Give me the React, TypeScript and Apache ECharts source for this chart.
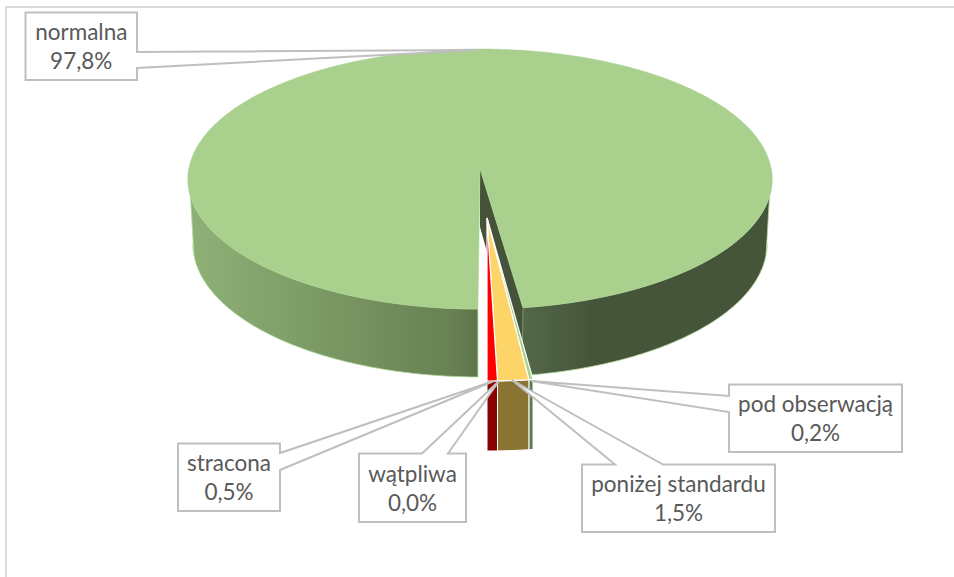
import React, { useEffect, useRef } from "react";
import * as echarts from "echarts";

const categories = ["normalna", "pod obserwacją", "poniżej standardu", "wątpliwa", "stracona"];
const values = [97.8, 0.2, 1.5, 0.0, 0.5];
const topColors = ["#a9d08d", "#a9d18e", "#fdd468", "#7f7f7f", "#ff0000"];
const sideColors = ["#44533a", "#5d7a52", "#8a7434", "#5f5f5f", "#8b0000"];

type P = [number, number];
const RAD = Math.PI / 180;
const MAIN = { ax: 480, ay: 169, cx: 480, cy: 179, rx: 292, ry: 130, dirX: 312, dirY: 134, skew: 2, apexDepth: 58 };
const BASE = { cx: 480, cy: 244, rx: 287, ry: 133 };
const SMALL = { ax: 487, ay: 218, rx: 334, ry: 163, depth: 70 };

// Ray from the projected pie centre to the projected (perspective) rim
function mainRim(deg: number): P {
  const t = deg * RAD;
  const dx = -MAIN.dirX * Math.sin(t) - MAIN.skew * Math.cos(t);
  const dy = MAIN.dirY * Math.cos(t);
  const ox = (MAIN.ax - MAIN.cx) / MAIN.rx;
  const oy = (MAIN.ay - MAIN.cy) / MAIN.ry;
  const ux = dx / MAIN.rx;
  const uy = dy / MAIN.ry;
  const a = ux * ux + uy * uy;
  const b = 2 * (ox * ux + oy * uy);
  const c = ox * ox + oy * oy - 1;
  const s = (-b + Math.sqrt(b * b - 4 * a * c)) / (2 * a);
  return [MAIN.ax + dx * s, MAIN.ay + dy * s];
}
// Lower rim, same x side: the point of the base ellipse below a given rim point
function baseAt(p: P): P {
  const u = Math.max(-1, Math.min(1, ((p[0] - BASE.cx) / MAIN.rx)));
  return [BASE.cx + BASE.rx * u, BASE.cy + BASE.ry * Math.sqrt(1 - u * u)];
}
function smallRim(deg: number): P {
  const t = deg * RAD;
  return [SMALL.ax - SMALL.rx * Math.sin(t), SMALL.ay + SMALL.ry * Math.cos(t)];
}
function sweep(f: (d: number) => P, from: number, to: number): P[] {
  const n = Math.max(2, Math.ceil(Math.abs(to - from) * 2));
  const out: P[] = [];
  for (let i = 0; i <= n; i++) out.push(f(from + ((to - from) * i) / n));
  return out;
}
function wall(top: P[], depth: number): P[] {
  return [...top, ...top.slice().reverse().map((p) => [p[0], p[1] + depth] as P)];
}
function outerWall(top: P[]): P[] {
  return [...top, ...top.slice().reverse().map(baseAt)];
}
const poly = (points: P[], style: any) => ({ type: "polygon", shape: { points }, style });

function renderSlice(params: any, api: any) {
  const i = params.dataIndex;
  const v = api.value(1) as number;
  const total = values.reduce((a, b) => a + b, 0);
  const before = values.slice(0, i).reduce((a, b) => a + b, 0);
  const a0 = (before / total) * 360;
  const a1 = ((before + v) / total) * 360;
  if (v <= 0) return { type: "group", children: [] };
  if (i === 0) {
    const rimAll = sweep(mainRim, a0, a1);
    const left = sweep(mainRim, a0, 90);
    const right = sweep(mainRim, 270, a1);
    const edge = mainRim(a1);
    return {
      type: "group",
      children: [
        poly(outerWall(left), {
          fill: new echarts.graphic.LinearGradient(0, 0, 1, 0, [
            { offset: 0, color: "#8fb177" },
            { offset: 0.9, color: "#688253" },
            { offset: 1, color: "#5f7549" },
          ]),
          stroke: "#b4d89c",
          lineWidth: 0.8,
        }),
        poly(outerWall(right), {
          fill: new echarts.graphic.LinearGradient(0, 0, 1, 0, [
            { offset: 0, color: "#546849" },
            { offset: 0.28, color: "#45553a" },
            { offset: 1, color: "#45553a" },
          ]),
          stroke: "#b4d89c",
          lineWidth: 0.8,
        }),
        poly(
          [
            [MAIN.ax, MAIN.ay],
            edge,
            baseAt(edge),
            [MAIN.ax, MAIN.ay + MAIN.apexDepth],
          ],
          { fill: sideColors[0] }
        ),
        poly([[MAIN.ax, MAIN.ay], ...rimAll], { fill: topColors[0], stroke: topColors[0], lineWidth: 0.5 }),
      ],
    };
  }
  const rim = sweep(smallRim, a0, a1);
  return {
    type: "group",
    children: [
      poly(wall(rim, SMALL.depth), { fill: sideColors[i], stroke: "#ffffff", lineWidth: 1 }),
      poly([[SMALL.ax, SMALL.ay], ...rim], { fill: topColors[i], stroke: "#ffffff", lineWidth: 1.2 }),
    ],
  };
}

const pct = (v: number) => v.toFixed(1).replace(".", ",") + "%";

// Callout layout: box [x, y, w, h] and its outline with the pointer tip, index aligned with categories
const callouts: { box: number[]; outline: P[] }[] = [
  {
    box: [25.5, 12.5, 111.5, 67.5],
    outline: [[25.5, 12.5], [137, 12.5], [137, 52], [478, 50], [137, 68], [137, 80], [25.5, 80]],
  },
  {
    box: [729, 384.5, 173, 67.5],
    outline: [[729, 384.5], [902, 384.5], [902, 452], [729, 452], [729, 412], [531, 381], [729, 396]],
  },
  {
    box: [582, 464.5, 193, 67.5],
    outline: [[582, 464.5], [615, 464.5], [512, 380], [663, 464.5], [775, 464.5], [775, 532], [582, 532]],
  },
  {
    box: [359, 453.5, 107, 68.5],
    outline: [[359, 453.5], [422, 453.5], [499, 381], [448, 453.5], [466, 453.5], [466, 522], [359, 522]],
  },
  {
    box: [178, 443.5, 102, 67.5],
    outline: [[178, 443.5], [280, 443.5], [280, 453], [494, 381], [280, 470], [280, 511], [178, 511]],
  },
];

const LABEL_FONT = { fontFamily: "Lato", fontSize: 22.5, fill: "#595959", align: "center", verticalAlign: "middle" };

function labelElements() {
  const out: any[] = [];
  categories.forEach((name, i) => {
    const { box, outline } = callouts[i];
    const cx = box[0] + box[2] / 2;
    const cy = box[1] + box[3] / 2;
    out.push({
      type: "polygon",
      z: 10,
      shape: { points: outline },
      style: { fill: "#ffffff", stroke: "#bfbfbf", lineWidth: 2 },
    });
    out.push({ type: "text", z: 11, style: { ...LABEL_FONT, text: name, x: cx, y: cy - 14.5 } });
    out.push({ type: "text", z: 11, style: { ...LABEL_FONT, text: pct(values[i]), x: cx, y: cy + 14.5 } });
  });
  return out;
}

export default function App() {
  const ref = useRef<HTMLDivElement>(null);
  useEffect(() => {
    const chart = echarts.init(ref.current!, undefined, { renderer: "svg" });
    chart.setOption({
      animation: false,
      backgroundColor: "#ffffff",
      graphic: [
        {
          type: "polyline",
          z: -1,
          shape: { points: [[6, 577], [6, 7], [954, 7]] },
          style: { stroke: "#d9d9d9", lineWidth: 2, fill: "none" },
        },
        ...labelElements(),
      ],
      series: [
        {
          type: "custom",
          coordinateSystem: "none",
          silent: true,
          renderItem: renderSlice,
          data: values.map((v, i) => ({ name: categories[i], value: [i, v] })),
        },
      ],
    });
    return () => chart.dispose();
  }, []);
  return <div ref={ref} style={{ position: "absolute", left: 0, top: 0, width: 954, height: 577 }} />;
}
